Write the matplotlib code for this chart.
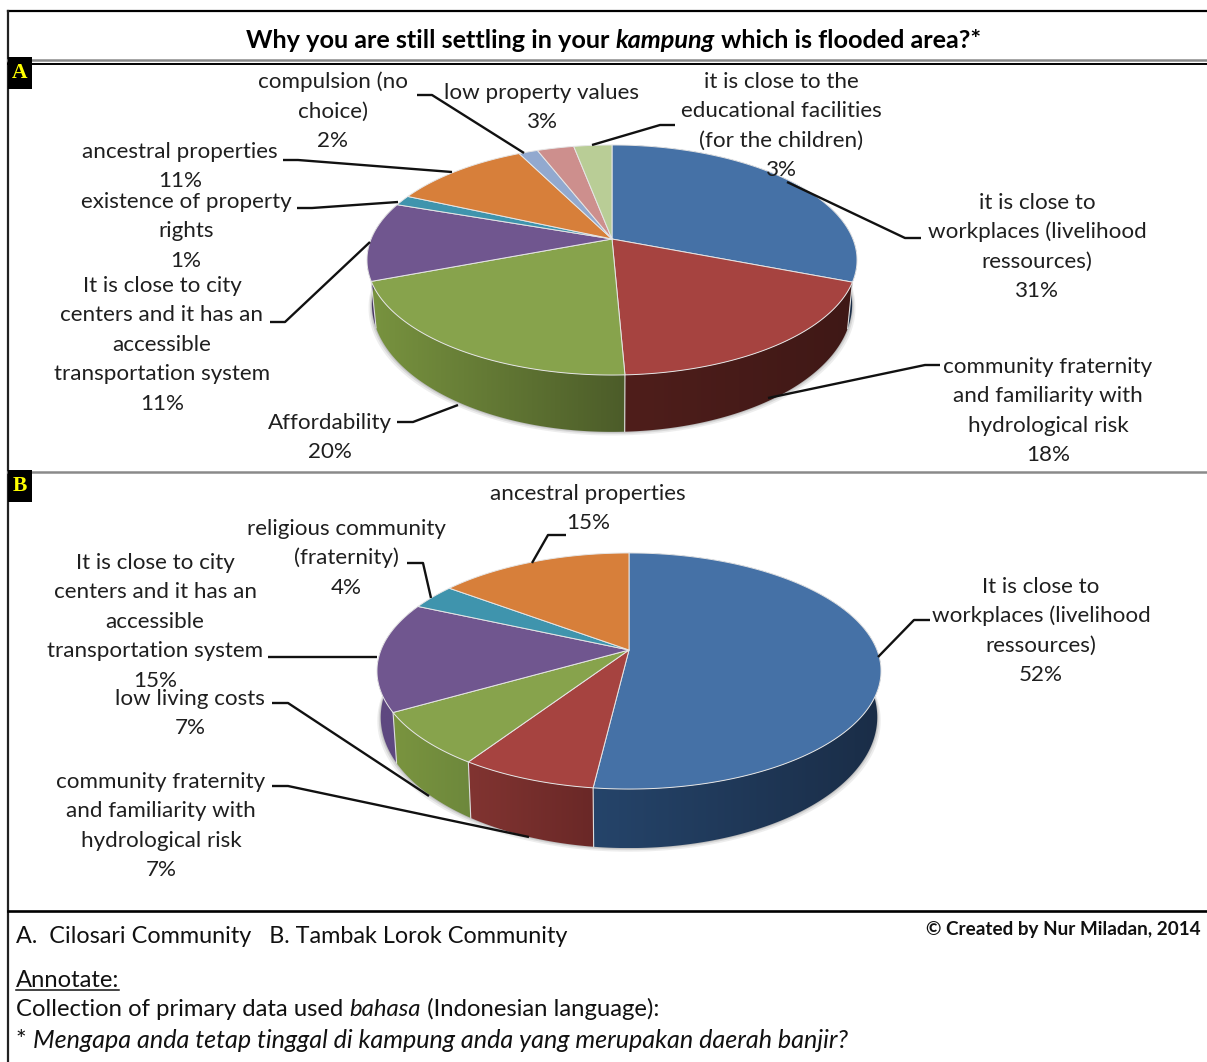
import numpy as np
import matplotlib
matplotlib.use("Agg")
import matplotlib.pyplot as plt
from matplotlib.colors import to_rgb
from matplotlib.patches import Polygon, Rectangle

plt.rcParams['font.family'] = ['Lato', 'DejaVu Sans']

# data, clockwise from 12 o'clock (slice sizes, labels show them rounded)
names_a = ["it is close to\nworkplaces (livelihood\nressources)",
           "community fraternity\nand familiarity with\nhydrological risk",
           "Affordability",
           "It is close to city\ncenters and it has an\naccessible\ntransportation system",
           "existence of property\nrights",
           "ancestral properties",
           "compulsion (no\nchoice)",
           "low property values",
           "it is close to the\neducational facilities\n(for the children)"]
values_a = [30.9, 18.4, 19.9, 11.1, 1.45, 10.85, 1.5, 2.9, 3.0]

names_b = ["It is close to\nworkplaces (livelihood\nressources)",
           "community fraternity\nand familiarity with\nhydrological risk",
           "low living costs",
           "It is close to city\ncenters and it has an\naccessible\ntransportation system",
           "religious community\n(fraternity)",
           "ancestral properties"]
values_b = [51.9, 7.4, 7.4, 15.0, 3.5, 14.8]

colors_a = ["#4571a6", "#a64340", "#87a34c", "#70568f", "#3f94ad", "#d77f3a", "#92a9cf", "#cd8f8d", "#b9cd96"]
colors_b = ["#4571a6", "#a64340", "#87a34c", "#70568f", "#3f94ad", "#d77f3a"]

# side wall colours at the left and right end of each slice
walls_a = [("#1a2d47", "#1a2d47"), ("#4f1e1b", "#3f1816"), ("#78933f", "#4c5c29"), ("#4a3a66", "#4a3a66")]
walls_b = [("#25446a", "#1a2d47"), ("#813431", "#6a2827"), ("#7a943f", "#6d883c"), ("#5e4880", "#5e4880")]

# label placement: centre x, first baseline y
label_pos_a = [(1037, 209), (1048, 373), (330, 429), (162, 292), (186, 208), (180, 158), (333, 88), (542, 99), (781, 88)]
label_pos_b = [(1041, 593), (161, 788), (190, 705), (155, 569), (346, 535), (588, 500)]

leaders_a = [[(921, 238), (905, 238), (787, 182)],
             [(940, 365), (925, 365), (768, 398)],
             [(397, 422), (413, 422), (458, 405)],
             [(270, 322), (285, 322), (370, 242)],
             [(297, 208), (312, 208), (398, 202)],
             [(283, 160), (298, 160), (452, 172)],
             [(417, 95), (432, 95), (524, 153)],
             None,
             [(675, 125), (660, 125), (592, 145)]]
leaders_b = [[(930, 620), (914, 620), (878, 657)],
             [(272, 786), (288, 786), (529, 837)],
             [(272, 703), (288, 703), (429, 796)],
             [(268, 657), (377, 657)],
             [(407, 563), (423, 563), (431, 598)],
             [(566, 535), (548, 535), (532, 563)]]

FS = 16.1
TXT = "#1f1f1f"
LINE_H = 29.4

fig = plt.figure(figsize=(12.07, 10.62), dpi=100)
ax = fig.add_axes([0, 0, 1, 1])
renderer = fig.canvas.get_renderer()


def draw_pie(values, colors, walls, cx, apex, R, V, p, h, xs):
    def rim(theta):
        X, Y = np.sin(theta), np.cos(theta)
        s = 1 / (1 + p * Y)
        return cx + R * X * s, apex - V * Y * s, s

    def low(theta):
        x, y, s = rim(theta)
        return cx + (x - cx) * xs, y + h * s ** 1.5

    # soft shadow under the pie
    ring = np.radians(np.arange(0, 360.5, 1))
    bx, by = low(ring)
    for grow, a in [(1.014, 0.10), (1.008, 0.14), (1.003, 0.2)]:
        ax.add_patch(Polygon(np.column_stack([cx + (bx - cx) * grow, by + (grow - 1) * 260]),
                             fc="#555555", ec="none", alpha=a, zorder=2))

    edges = np.radians(np.concatenate([[0], np.cumsum(values)]) * 3.6)

    # side wall, a horizontal gradient clipped to each slice's outline
    for i in range(len(walls)):
        t = np.linspace(edges[i], edges[i + 1], 200)
        x, y, _s = rim(t)
        x2, y2 = low(t)
        pts = np.column_stack([np.r_[x, x2[::-1]], np.r_[y, y2[::-1]]])
        c0, c1 = np.array(to_rgb(walls[i][0])), np.array(to_rgb(walls[i][1]))
        grad = np.linspace(0, 1, 128)[None, :, None] * (c1 - c0) + c0
        im = ax.imshow(grad, extent=(pts[:, 0].min(), pts[:, 0].max(), pts[:, 1].max(), pts[:, 1].min()),
                       aspect="auto", interpolation="bilinear", zorder=3)
        outline = Polygon(pts, fc="none", ec="none", transform=ax.transData)
        ax.add_patch(outline)
        im.set_clip_path(outline)

    # seams between walls
    for e in edges[1:len(walls)]:
        x, y, _s = rim(e)
        x2, y2 = low(e)
        if np.cos(e) < -0.1:
            ax.plot([x, x2], [y, y2], color="#dcdcdc", lw=0.8, zorder=4)

    # top face
    for i, col in enumerate(colors):
        t = np.linspace(edges[i], edges[i + 1], max(2, int(np.degrees(edges[i + 1] - edges[i]) * 2)))
        x, y, _s = rim(t)
        pts = np.column_stack([np.r_[cx, x], np.r_[apex, y]])
        ax.add_patch(Polygon(pts, fc=col, ec="#e6e6e6", lw=0.7, zorder=5, joinstyle="round"))


def draw_labels(names, values, positions, leaders):
    for name, v, (x, y), path in zip(names, values, positions, leaders):
        lines = (name + "\n" + f"{v:.0f}%").split("\n")
        for k, line in enumerate(lines):
            ax.text(x, y + k * LINE_H, line, ha="center", va="baseline", fontsize=FS, color=TXT, zorder=7)
        if path:
            xs_, ys_ = zip(*path)
            ax.plot(xs_, ys_, color="#111111", lw=1.7, zorder=6, solid_capstyle="butt")


def runs(x, y, parts, size, color="#111111"):
    # consecutive pieces of one line with different styles
    for txt, weight, style in parts:
        ax.text(x, y, txt, fontsize=size, fontweight=weight, fontstyle=style, color=color,
                va="baseline", ha="left", zorder=8)
        probe = ax.text(0, 0, txt + ".", fontsize=size, fontweight=weight, fontstyle=style)
        dot = ax.text(0, 0, ".", fontsize=size, fontweight=weight, fontstyle=style)
        x += probe.get_window_extent(renderer).width - dot.get_window_extent(renderer).width
        probe.remove()
        dot.remove()
    return x


draw_pie(values_a, colors_a, walls_a, cx=612, apex=239, R=240.9, V=111.2, p=0.1826, h=42, xs=0.98)
draw_labels(names_a, values_a, label_pos_a, leaders_a)
draw_pie(values_b, colors_b, walls_b, cx=629, apex=650, R=248, V=114.3, p=0.178, h=44, xs=0.985)
draw_labels(names_b, values_b, label_pos_b, leaders_b)

ax.set_xlim(0, 1207)
ax.set_ylim(1062, 0)
ax.axis("off")

# frame
ax.plot([8, 1207], [11, 11], color="black", lw=1.6, zorder=9)
ax.plot([8, 8], [11, 1062], color="#222222", lw=1.6, zorder=9)
ax.plot([8, 1207], [59.5, 59.5], color="#8a8a8a", lw=1.8, zorder=9)
ax.plot([8, 1207], [63.5, 63.5], color="black", lw=1.4, zorder=9)
ax.plot([8, 1207], [472, 472], color="#8a8a8a", lw=1.8, zorder=9)
ax.plot([8, 1207], [911, 911], color="black", lw=1.9, zorder=9)

for tag, y0, y1 in [("A", 57, 89), ("B", 470, 502)]:
    ax.add_patch(Rectangle((8, y0), 24, y1 - y0, fc="black", ec="none", zorder=10))
    ax.text(20, (y0 + y1) / 2, tag, color="#ffff00", fontsize=15.5, fontweight="bold",
            family="Liberation Serif", ha="center", va="center", zorder=11)

# title and footer
runs(246, 48, [("Why you are still settling in your ", "bold", "normal"),
               ("kampung", "bold", "italic"),
               (" which is flooded area?*", "bold", "normal")], 18.2, "black")
runs(16, 943, [("A.  Cilosari Community   B. Tambak Lorok Community", "normal", "normal")], 16.8)
ax.text(926, 935, "© Created by Nur Miladan, 2014", fontsize=13.6, fontweight="bold", color="#111111",
        va="baseline")
end = runs(16, 987, [("Annotate:", "normal", "normal")], 17.1)
ax.plot([16, end], [990, 990], color="#111111", lw=1.1, zorder=8)
runs(16, 1016, [("Collection of primary data used ", "normal", "normal"),
                ("bahasa", "normal", "italic"),
                (" (Indonesian language):", "normal", "normal")], 17.2)
runs(16, 1048, [("* ", "normal", "normal"),
                ("Mengapa anda tetap tinggal di kampung anda yang merupakan daerah banjir?", "normal", "italic")], 18.1)

fig.savefig("out.png", dpi=100, facecolor="white")
